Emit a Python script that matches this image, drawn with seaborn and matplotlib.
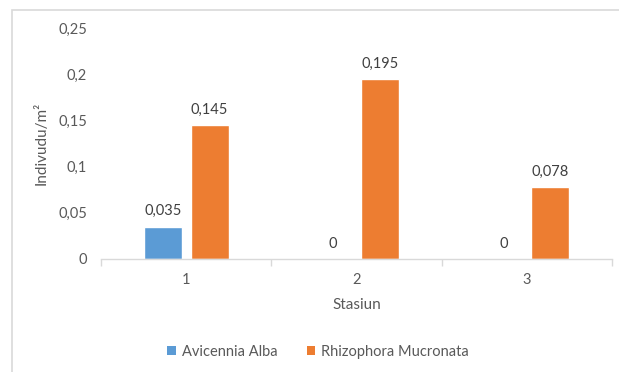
import matplotlib
matplotlib.use("Agg")
import matplotlib.pyplot as plt
import seaborn as sns
import pandas as pd
from matplotlib.patches import Rectangle, Patch

stations = ["1", "2", "3"]
avicennia = [0.035, 0.0, 0.0]
rhizophora = [0.145, 0.195, 0.078]
series_names = ["Avicennia Alba", "Rhizophora Mucronata"]
yticks = [0, 0.05, 0.10, 0.15, 0.20, 0.25]
ytick_labels = ["0", "0,05", "0,1", "0,15", "0,2", "0,25"]

df = pd.DataFrame({
    "Stasiun": stations * 2,
    "value": avicennia + rhizophora,
    "series": [series_names[0]] * 3 + [series_names[1]] * 3,
})

sns.set_theme(style="white")
plt.rcParams["font.family"] = ["Lato", "DejaVu Sans"]
grey = "#595959"
fs = 10.5

fig = plt.figure(figsize=(6.19, 3.72), dpi=100)
ax = fig.add_axes([101/619, 1 - 259/372, (612-101)/619, (259-28)/372])

palette = {series_names[0]: "#5B9BD5", series_names[1]: "#ED7D31"}
sns.barplot(data=df, x="Stasiun", y="value", hue="series", palette=palette,
            width=0.55, gap=0.19, ax=ax, legend=False, saturation=1)

for cont in ax.containers:
    labels = [("%g" % v).replace(".", ",") for v in cont.datavalues]
    ax.bar_label(cont, labels=labels, padding=6, fontsize=fs, color="#404040")

ax.set_ylim(0, 0.25)
ax.set_xlim(-0.5, 2.5)
ax.set_yticks(yticks)
ax.set_yticklabels(ytick_labels, fontsize=fs, color=grey)
ax.tick_params(axis="y", length=0, pad=10)
ax.set_xticks([-0.5, 0.5, 1.5, 2.5], minor=True)
ax.set_xticklabels(stations, fontsize=fs, color=grey)
ax.tick_params(axis="x", which="major", length=0, pad=10)
ax.tick_params(axis="x", which="minor", length=5, color="#D9D9D9", width=1, bottom=True)

for s in ["top", "right", "left"]:
    ax.spines[s].set_visible(False)
ax.spines["bottom"].set_color("#D9D9D9")
ax.spines["bottom"].set_linewidth(1)

ax.set_xlabel("Stasiun", fontsize=11, color=grey, labelpad=8)
ax.set_ylabel("Indivudu/m²", fontsize=11, color=grey)
ax.yaxis.set_label_coords(-52/511, 0.5)

handles = [Patch(facecolor=palette[n], edgecolor="none") for n in series_names]
fig.legend(handles, series_names, loc="center", bbox_to_anchor=(318/619, 1 - 352/372),
           ncol=2, frameon=False, fontsize=fs, labelcolor=grey,
           handlelength=0.6, handleheight=0.6, handletextpad=0.4, columnspacing=2.0)

fig.patches.append(Rectangle((12/619, -0.1), 1.0, 1 - 10/372 + 0.1, transform=fig.transFigure,
                             fill=False, edgecolor="#D9D9D9", linewidth=1.2))

fig.savefig("out.png", dpi=100)
